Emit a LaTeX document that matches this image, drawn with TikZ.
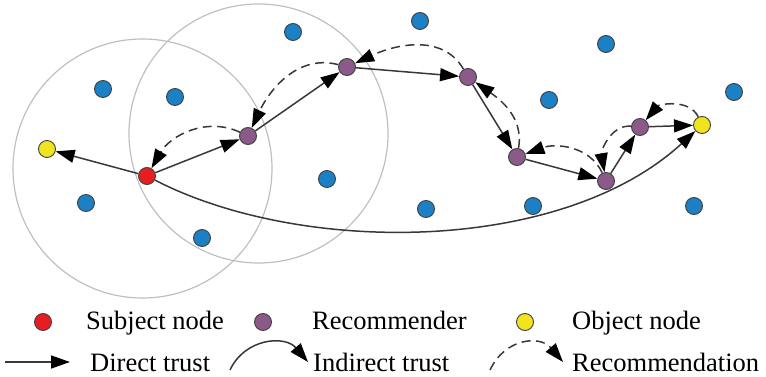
\documentclass[tikz,border=0pt]{standalone}
\usepackage{fontspec}
\setmainfont{Liberation Serif}
\usetikzlibrary{arrows.meta}
\definecolor{bluen}{RGB}{28,128,196}
\definecolor{purpn}{RGB}{139,90,136}
\definecolor{redn}{RGB}{230,30,35}
\definecolor{yelln}{RGB}{240,228,30}
\begin{document}
\begin{tikzpicture}[x=1pt,y=1pt,
  dot/.style={circle,draw=black!75,line width=0.9pt,minimum size=17pt,inner sep=0pt},
  bn/.style={dot,fill=bluen},
  pn/.style={dot,fill=purpn},
  rn/.style={dot,fill=redn},
  yn/.style={dot,fill=yelln},
  trust/.style={draw=black!78,line width=1.5pt,-{Triangle[length=19pt,width=13pt,color=black]}},
  rec/.style={trust,dash pattern=on 9pt off 5.5pt},
  ring/.style={draw=black!25,line width=1.2pt},
  lab/.style={anchor=base west,inner sep=0pt,font=\fontsize{26.5}{30}\selectfont}]
\useasboundingbox (0,0) rectangle (766,-377);
% rings
\draw[ring] (142.5,-168.5) circle (129.5);
\draw[ring] (258.5,-133.5) circle (129.5);
% blue nodes
\node[bn] (b1) at (293,-32) {};
\node[bn] (b2) at (103,-89) {};
\node[bn] (b3) at (175,-97) {};
\node[bn] (b4) at (86,-203) {};
\node[bn] (b5) at (202,-238) {};
\node[bn] (b6) at (327,-179) {};
\node[bn] (b7) at (420,-21) {};
\node[bn] (b8) at (606,-44) {};
\node[bn] (b9) at (549,-100) {};
\node[bn] (b10) at (734,-92) {};
\node[bn] (b11) at (426,-209) {};
\node[bn] (b12) at (533,-206) {};
\node[bn] (b13) at (694,-206) {};
% main nodes
\node[rn] (s) at (147,-176) {};
\node[yn] (yl) at (47,-149) {};
\node[yn] (yr) at (702,-125) {};
\node[pn] (p1) at (248,-136) {};
\node[pn] (p2) at (347,-67) {};
\node[pn] (p3) at (468,-77) {};
\node[pn] (p4) at (517,-157) {};
\node[pn] (p5) at (606,-181) {};
\node[pn] (p6) at (640,-127) {};
% direct trust
\draw[trust] (s) -- (yl);
\draw[trust] (s) -- (p1);
\draw[trust] (p1) -- (p2);
\draw[trust] (p2) -- (p3);
\draw[trust] (p3) -- (p4);
\draw[trust] (p4) -- (p5);
\draw[trust] (p5) -- (p6);
\draw[trust] (p6) -- (yr);
% indirect trust
\draw[trust] (s) .. controls (300,-255) and (560,-255) .. (yr);
% recommendations
\draw[rec] (p1) to[out=155,in=60] (s);
\draw[rec] (p2) to[out=165,in=65] (p1);
\draw[rec] (p3) to[out=120,in=25] (p2);
\draw[rec] (p4) to[out=80,in=-35] (p3);
\draw[rec] (p5) to[out=115,in=20] (p4);
\draw[rec] (p6) to[out=175,in=100] (p5);
\draw[rec] (yr) to[out=115,in=50] (p6);
% legend
\node[rn] (lr) at (43,-322) {};
\node[lab] (lt1) at (86,-329) {Subject node};
\node[pn] (lp) at (263,-322) {};
\node[lab] (lt2) at (312,-329) {Recommender};
\node[yn] (ly) at (525,-322) {};
\node[lab] (lt3) at (572,-329) {Object node};
\coordinate (da) at (5,-362);
\coordinate (db) at (70,-362);
\draw[trust] (da) -- (db);
\node[lab] (lt4) at (90,-371) {Direct trust};
\coordinate (ia) at (230,-370);
\coordinate (ib) at (308,-362);
\draw[trust] (ia) .. controls (245,-338) and (285,-335) .. (ib);
\node[lab] (lt5) at (313,-371) {Indirect trust};
\coordinate (ra) at (490,-370);
\coordinate (rb) at (563,-362);
\draw[rec] (ra) .. controls (505,-338) and (540,-335) .. (rb);
\node[lab] (lt6) at (572,-371) {Recommendation};
\end{tikzpicture}
\end{document}
